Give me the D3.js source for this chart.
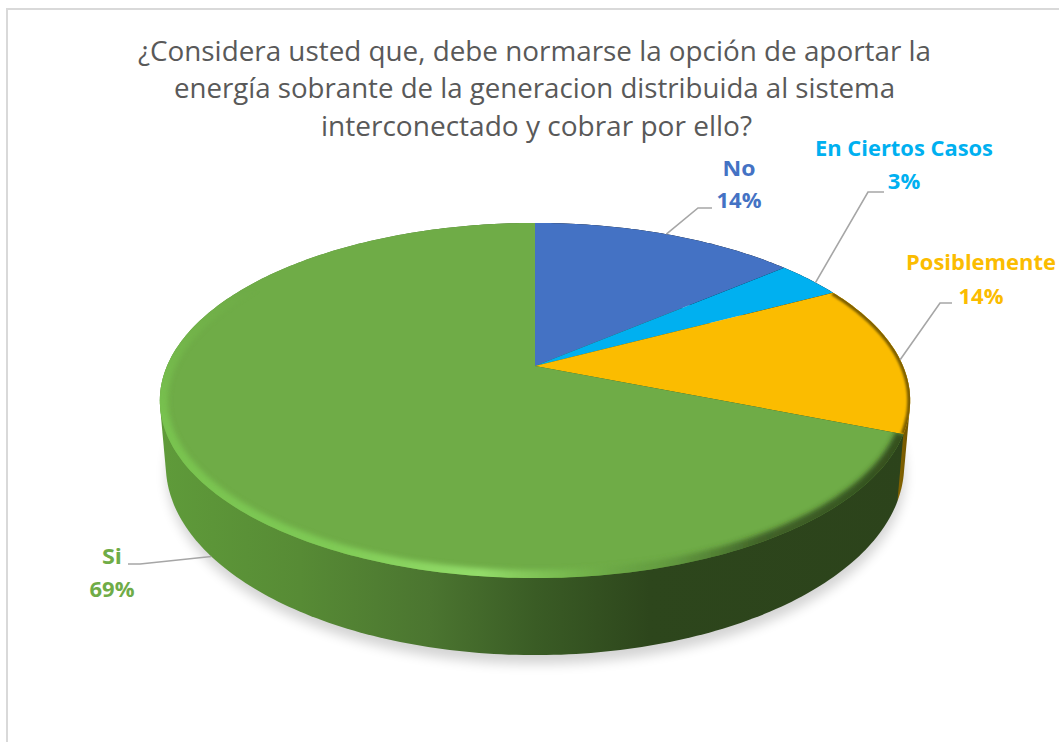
<!DOCTYPE html>
<html><head><meta charset="utf-8">
<script src="https://cdn.jsdelivr.net/npm/d3@7/dist/d3.min.js"></script>
<style>html,body{margin:0;padding:0;background:#fff;overflow:hidden}svg{display:block}text{font-family:"Open Sans",sans-serif}</style>
</head><body><svg id="c" width="1059" height="742"></svg>
<script>
// Data
const categories = ["No","En Ciertos Casos","Posiblemente","Si"];
const counts = [4,1,4,20];            // shares 13.8 / 3.4 / 13.8 / 69.0 %
const percentLabels = ["14%","3%","14%","69%"];
const colors = ["#4472C4","#00B0F0","#FBBC00","#6FAC47"];
const titleLines = [
 "¿Considera usted que, debe normarse la opción de aportar la",
 "energía sobrante de la generacion distribuida al sistema",
 "interconectado y cobrar por ello?"];

// Layout (text and leader placement only)
const titleLayout = [{x:534.5,y:61,w:793},{x:534.5,y:98,w:721},{x:536.5,y:136,w:431}];
const labelLayout = [
 {x:739,y1:176,y2:208,w:33,e1:[698,208],e2:[712,208],shift:0,wall:false},
 {x:904,y1:156,y2:189,w:178,e1:[868,192],e2:[884,192],shift:1.5,wall:false},
 {x:981,y1:270,y2:304,w:150,e1:[940,303],e2:[952,303],shift:1,wall:false},
 {x:112,y1:564,y2:597,w:20,e1:[140,564],e2:[128,564],shift:-4,wall:true}];

const svg = d3.select("#c"), defs = svg.append("defs");
svg.append("path").attr("d","M1059,9H7V742").attr("fill","none").attr("stroke","#d9d9d9").attr("stroke-width",2);

// perspective disc geometry
const cx=535, cy=366, R=368, persp=-0.1944, a=99.7;
const ellipseCy=400.5, wallScaleX=0.984, wallScaleY=1.07, wallDrop=64.6;
const rad = d3.scaleLinear().domain([0,1]).range([0,R]);
function topPt(t){
  const u=Math.sin(t), v=-Math.cos(t), d=1+persp*v;
  return [cx+rad(u)/d,(a*v+cy)/d];
}
function botPt(t){
  const p=topPt(t);
  return [cx+(p[0]-cx)*wallScaleX, ellipseCy+wallDrop+(p[1]-ellipseCy)*wallScaleY];
}
const line = d3.line();
const arcPts=(f,t0,t1)=>d3.range(0,1.0001,1/Math.max(2,Math.ceil((t1-t0)*60))).map(k=>f(t0+(t1-t0)*k));
const pie = d3.pie().sort(null).startAngle(0).endAngle(2*Math.PI);
const slices = pie(counts);

// filters and gradients
function blur(id,s){defs.append("filter").attr("id",id).attr("x","-20%").attr("y","-20%").attr("width","140%").attr("height","140%")
  .append("feGaussianBlur").attr("stdDeviation",s);}
blur("b1",1.3); blur("b3",2.6); blur("b6",6);
function grad(id,stops){const g=defs.append("linearGradient").attr("id",id).attr("gradientUnits","userSpaceOnUse")
  .attr("x1",160).attr("x2",910).attr("y1",0).attr("y2",0);
  stops.forEach(s=>g.append("stop").attr("offset",(s[0]-160)/750).attr("stop-color",s[1]).attr("stop-opacity",s[2]===undefined?1:s[2]));}
grad("wall3",[[160,"#5f9b3a"],[300,"#578b35"],[430,"#4b7530"],[535,"#3a5c25"],[650,"#2d461c"],[910,"#2c431b"]]);
grad("wall2",[[860,"#a07a00"],[895,"#8a6800"],[910,"#6f5400"]]);
grad("rim3",[[160,"#78c24f"],[330,"#7fca55"],[480,"#93dc6a"],[560,"#7cc052",.8],[660,"#5a8f3a",.5],[760,"#2c431b",.7],[910,"#2c431b",.9]]);

const fullBot = arcPts(botPt,0,2*Math.PI);

// soft floor shadow
svg.append("path").attr("d",line(fullBot.map(p=>[p[0]+1,p[1]+9])))
  .attr("fill","#000").attr("opacity",.17).attr("filter","url(#b6)");

// side walls: convex sweep between the top rim and the lower edge
const wallFill=["#000","#000","url(#wall2)","url(#wall3)"];
svg.selectAll("path.wall").data(slices).join("path").attr("class","wall")
  .attr("d",d=>line(d3.polygonHull(arcPts(topPt,d.startAngle,d.endAngle).concat(arcPts(botPt,d.startAngle,d.endAngle))))+"Z")
  .attr("fill",(d,i)=>wallFill[i]);

// top faces
const topPath=d=>line([[cx,cy]].concat(arcPts(topPt,d.startAngle,d.endAngle)))+"Z";
svg.selectAll("path.top").data(slices).join("path").attr("class","top")
  .attr("d",topPath).attr("fill",(d,i)=>colors[i]);

// bevel along the rim, kept inside each face
defs.append("clipPath").attr("id","clipGreen").append("path").attr("d",topPath(slices[3]));
defs.append("clipPath").attr("id","clipOrange").append("path").attr("d",topPath(slices[2]));
const mg=defs.append("linearGradient").attr("id","fadeY").attr("gradientUnits","userSpaceOnUse")
  .attr("x1",0).attr("x2",0).attr("y1",290).attr("y2",420);
mg.append("stop").attr("offset",0).attr("stop-color","#000");
mg.append("stop").attr("offset",1).attr("stop-color","#fff");
defs.append("mask").attr("id","rimMask").attr("maskUnits","userSpaceOnUse").attr("x",0).attr("y",0).attr("width",1059).attr("height",742)
  .append("rect").attr("width",1059).attr("height",742).attr("fill","url(#fadeY)");
const gOuter=svg.append("g").attr("clip-path","url(#clipGreen)").append("g").attr("mask","url(#rimMask)");
gOuter.append("path").attr("d",line(arcPts(topPt,slices[3].startAngle,slices[3].endAngle)))
  .attr("fill","none").attr("stroke","url(#rim3)").attr("stroke-width",16).attr("filter","url(#b3)");
svg.append("g").attr("clip-path","url(#clipOrange)").append("path")
  .attr("d",line(arcPts(topPt,slices[2].startAngle,slices[2].endAngle)))
  .attr("fill","none").attr("stroke","#7d5f00").attr("stroke-width",6).attr("filter","url(#b1)");

// leaders
const midAngle=d=>(d.startAngle+d.endAngle)/2;
svg.selectAll("path.leader").data(slices).join("path").attr("class","leader")
  .attr("d",(d,i)=>{const L=labelLayout[i];
    return line([(L.wall?botPt:topPt)(midAngle(d)+L.shift*Math.PI/180),L.e1,L.e2]);})
  .attr("fill","none").attr("stroke","#a6a6a6").attr("stroke-width",1.6);

// labels
const labelFont=22;
labelLayout.forEach((L,i)=>{
  svg.append("text").attr("x",L.x).attr("y",L.y1).attr("text-anchor","middle").attr("font-size",labelFont).attr("font-weight",700)
    .attr("fill",colors[i]).attr("textLength",L.w).attr("lengthAdjust","spacingAndGlyphs").text(categories[i]);
  svg.append("text").attr("x",L.x).attr("y",L.y2).attr("text-anchor","middle").attr("font-size",labelFont).attr("font-weight",700)
    .attr("fill",colors[i]).text(percentLabels[i]);
});

// title
titleLines.forEach((t,i)=>{const L=titleLayout[i];
  svg.append("text").attr("x",L.x).attr("y",L.y).attr("text-anchor","middle").attr("font-size",28).attr("fill","#595959")
    .attr("textLength",L.w).attr("lengthAdjust","spacingAndGlyphs").text(t);
});
</script></body></html>
